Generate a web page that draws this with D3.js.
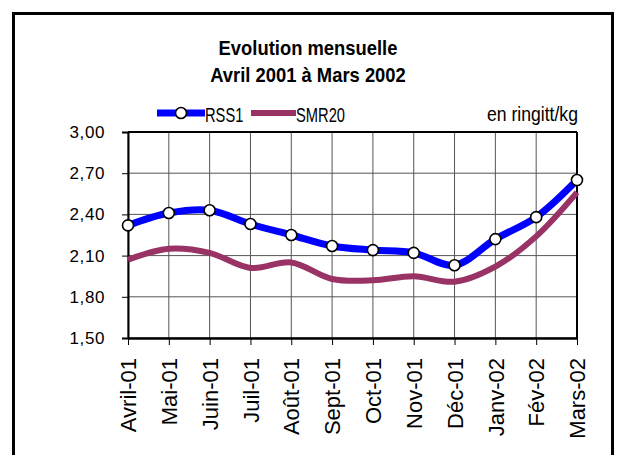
<!DOCTYPE html>
<html><head><meta charset="utf-8">
<script src="https://cdn.jsdelivr.net/npm/d3@7"></script>
<style>body{margin:0;background:#fff}svg{display:block}text{font-family:"Liberation Sans",Arial,sans-serif}</style>
</head><body><svg id="c" width="620" height="455"></svg>
<script>
const categories = ["Avril-01","Mai-01","Juin-01","Juil-01","Août-01","Sept-01","Oct-01","Nov-01","Déc-01","Janv-02","Fév-02","Mars-02"];
const rss1 = [2.32,2.41,2.43,2.33,2.25,2.17,2.14,2.12,2.03,2.22,2.38,2.65];
const smr20 = [2.07,2.15,2.12,2.01,2.05,1.93,1.92,1.95,1.91,2.02,2.24,2.56];
const yTicks = [1.5,1.8,2.1,2.4,2.7,3.0];
const titleLines = ["Evolution mensuelle","Avril 2001 à Mars 2002"];

const svg = d3.select("#c");
svg.append("rect").attr("x",13.5).attr("y",13.5).attr("width",599).attr("height",460)
  .attr("fill","none").attr("stroke","#000").attr("stroke-width",3);

const L=128,R=577,T=132,B=338;
const x = d3.scalePoint().domain(categories).range([L,R]);
const y = d3.scaleLinear().domain([1.5,3.0]).range([B,T]);

// grid
const g = svg.append("g");
g.selectAll(".hg").data(yTicks).join("line").attr("x1",L).attr("x2",R)
  .attr("y1",d=>y(d)).attr("y2",d=>y(d)).attr("stroke","#555").attr("stroke-width",1);
g.selectAll(".vg").data(categories).join("line").attr("x1",d=>x(d)).attr("x2",d=>x(d))
  .attr("y1",T).attr("y2",B).attr("stroke","#555").attr("stroke-width",1);

// axes
const ya = svg.append("g").attr("transform",`translate(${L},0)`)
  .call(d3.axisLeft(y).tickValues(yTicks).tickSize(6).tickPadding(17).tickFormat(d=>d3.format(".2f")(d).replace(".",",")));
ya.select(".domain").attr("stroke-width",2);
ya.selectAll("text").attr("font-size",17).attr("fill","#000").attr("letter-spacing",0.6);
const xa = svg.append("g").attr("transform",`translate(0,${B})`)
  .call(d3.axisBottom(x).tickSize(7).tickSizeOuter(0));
xa.select(".domain").attr("stroke-width",2.5);
xa.selectAll("text").attr("font-size",22).attr("fill","#000")
  .attr("transform","rotate(-90)").attr("text-anchor","end").attr("x",-20).attr("y",0).attr("dy","0.35em");
// top and right border
svg.append("line").attr("x1",L).attr("x2",R).attr("y1",T).attr("y2",T).attr("stroke","#000").attr("stroke-width",2);
svg.append("line").attr("x1",R).attr("x2",R).attr("y1",T).attr("y2",B).attr("stroke","#000").attr("stroke-width",2);

const line = d3.line().x((d,i)=>x(categories[i])).y(d=>y(d)).curve(d3.curveCatmullRom.alpha(0.5));
svg.append("path").datum(smr20).attr("d",line).attr("fill","none").attr("stroke","#993366").attr("stroke-width",6);
svg.append("path").datum(rss1).attr("d",line).attr("fill","none").attr("stroke","#0000FF").attr("stroke-width",7);
svg.selectAll(".m").data(rss1).join("circle").attr("cx",(d,i)=>x(categories[i])).attr("cy",d=>y(d))
  .attr("r",5.5).attr("fill","#fff").attr("stroke","#000").attr("stroke-width",1.6);

// title
svg.selectAll(".t").data(titleLines).join("text")
  .attr("transform",(d,i)=>`translate(308,${55+i*27}) scale(0.92,1)`)
  .attr("text-anchor","middle").attr("font-size",20).attr("font-weight","bold").text(d=>d);

// legend
svg.append("line").attr("x1",157).attr("x2",205).attr("y1",113).attr("y2",113).attr("stroke","#0000FF").attr("stroke-width",7);
svg.append("circle").attr("cx",181).attr("cy",113).attr("r",5.5).attr("fill","#fff").attr("stroke","#000").attr("stroke-width",1.6);
svg.append("text").attr("transform","translate(205,122) scale(0.7,1)").attr("font-size",21).text("RSS1");
svg.append("line").attr("x1",251).attr("x2",296).attr("y1",113).attr("y2",113).attr("stroke","#993366").attr("stroke-width",6);
svg.append("text").attr("transform","translate(296,122) scale(0.7,1)").attr("font-size",21).text("SMR20");
svg.append("text").attr("transform","translate(578,121) scale(0.84,1)").attr("text-anchor","end").attr("font-size",21).text("en ringitt/kg");
</script></body></html>
